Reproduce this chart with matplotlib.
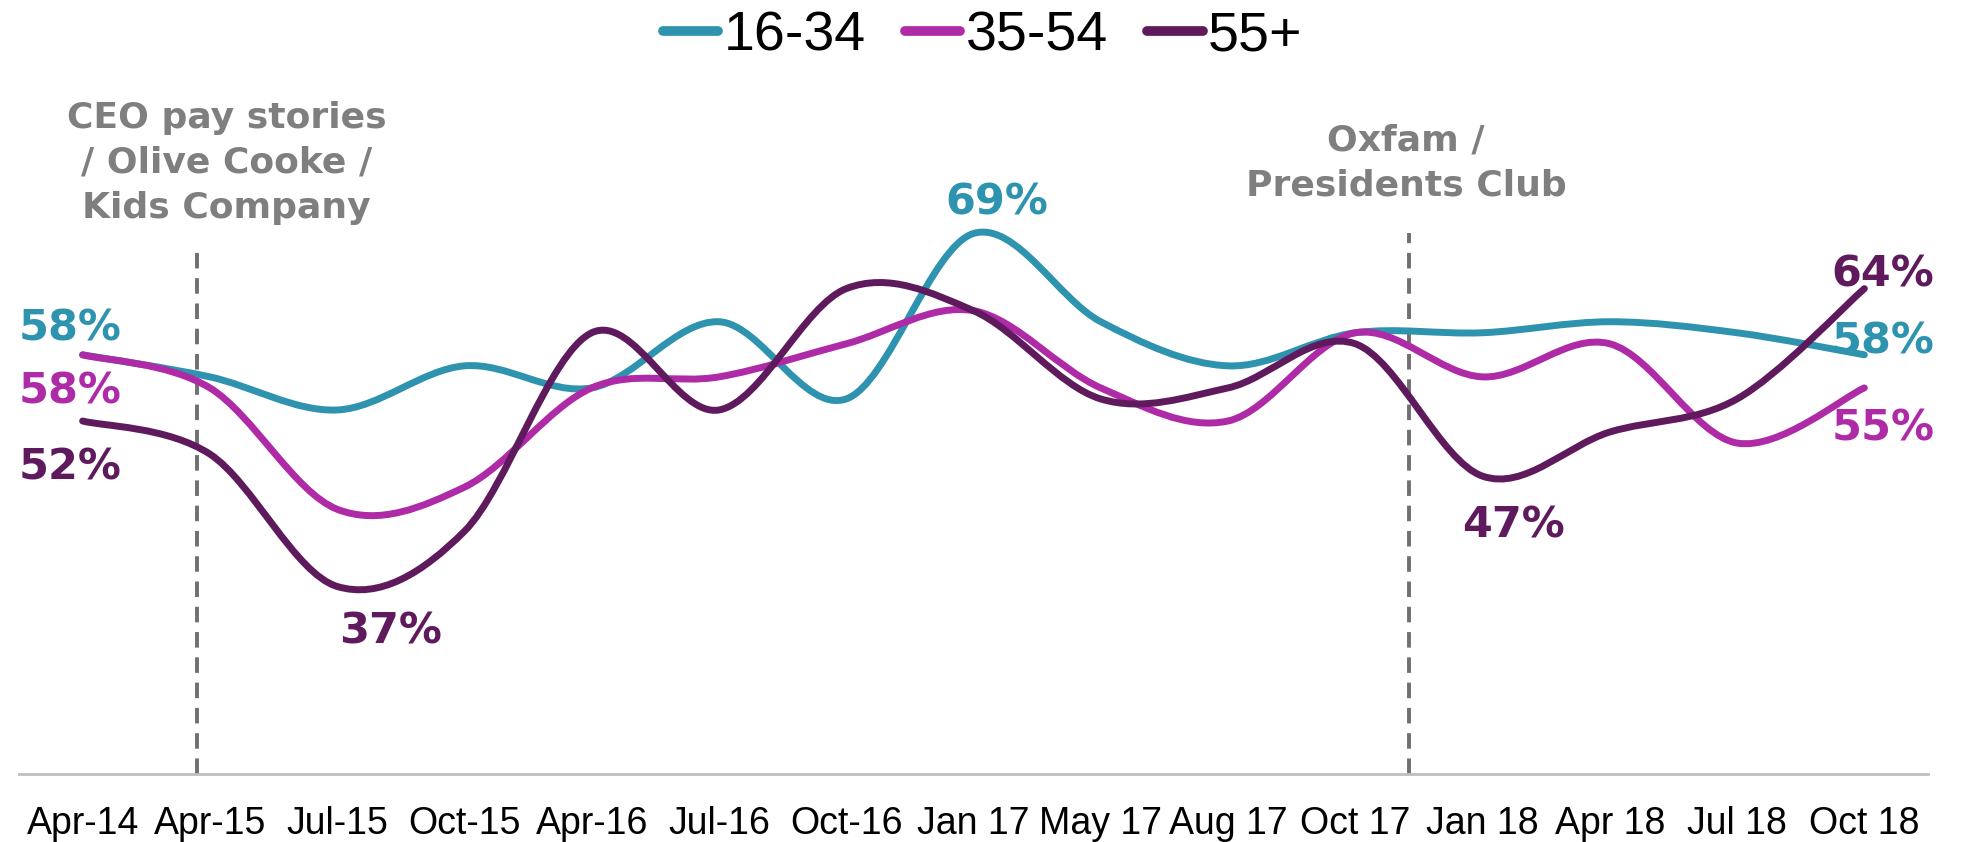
import numpy as np
import matplotlib
matplotlib.use("Agg")
import matplotlib.pyplot as plt
from matplotlib.path import Path
from matplotlib.patches import PathPatch

# #### Data (percent agreeing, by age group)
months = ["Apr-14", "Apr-15", "Jul-15", "Oct-15", "Apr-16", "Jul-16", "Oct-16", "Jan 17",
          "May 17", "Aug 17", "Oct 17", "Jan 18", "Apr 18", "Jul 18", "Oct 18"]
age_16_34 = [58, 56, 53, 57, 55, 61, 54, 69, 61, 57, 60, 60, 61, 60, 58]
age_35_54 = [58, 55, 44, 46, 55, 56, 59, 62, 55, 52, 60, 56, 59, 50, 55]
age_55_plus = [52, 49, 37, 42, 60, 53, 64, 62, 54, 55, 59, 47, 51, 54, 64]
series_names = ["16-34", "35-54", "55+"]

# events marked with dashed lines (position between categories, caption)
events = [(0.9, 67.5, 0.23, "CEO pay stories\n/ Olive Cooke /\nKids Company"),
          (10.42, 69.0, -0.02, "Oxfam /\nPresidents Club")]

c_young = "#2E93AE"
c_mid = "#AE2AA6"
c_old = "#5E1A5C"
grey = "#7F7F7F"


def smooth_path(xs, ys):
    # Excel style smoothed line: cubic bezier segments through every point
    pts = np.column_stack([xs, ys]).astype(float)
    padded = np.vstack([pts[0], pts, pts[-1]])
    verts = [pts[0]]
    codes = [Path.MOVETO]
    for i in range(len(pts) - 1):
        p0, p1, p2, p3 = padded[i], padded[i + 1], padded[i + 2], padded[i + 3]
        verts += [p1 + (p2 - p0) / 6, p2 - (p3 - p1) / 6, p2]
        codes += [Path.CURVE4] * 3
    return Path(verts, codes)


fig = plt.figure(figsize=(19.77, 8.42), dpi=100)
ax = fig.add_axes([0.0096, 0.0808, 0.9656, 0.786])

x = np.arange(len(months))
handles = []
for vals, col, name in zip([age_16_34, age_35_54, age_55_plus],
                           [c_young, c_mid, c_old], series_names):
    ax.add_patch(PathPatch(smooth_path(x, vals), facecolor="none", edgecolor=col,
                           lw=5, capstyle="round", joinstyle="round", zorder=3))
    h, = ax.plot([], [], color=col, lw=7, solid_capstyle="round", label=name)
    handles.append(h)

for ex, ytop, dx, caption in events:
    ax.plot([ex, ex], [20, ytop], color="#707070", lw=2.8, dashes=(4, 2.5), zorder=2)
    ax.text(ex + dx, 75.4, caption, ha="center", va="center", color=grey,
            fontsize=26, fontweight="bold", linespacing=1.4)

# value labels
lab = dict(fontsize=31, fontweight="bold")
ax.text(-0.5, 60.4, "58%", color=c_young, ha="left", va="center", **lab)
ax.text(-0.5, 54.7, "58%", color=c_mid, ha="left", va="center", **lab)
ax.text(-0.5, 47.8, "52%", color=c_old, ha="left", va="center", **lab)
ax.text(2.42, 32.9, "37%", color=c_old, ha="center", va="center", **lab)
ax.text(7.18, 71.8, "69%", color=c_young, ha="center", va="center", **lab)
ax.text(11.24, 42.5, "47%", color=c_old, ha="center", va="center", **lab)
ax.text(14.55, 65.3, "64%", color=c_old, ha="right", va="center", **lab)
ax.text(14.55, 59.2, "58%", color=c_young, ha="right", va="center", **lab)
ax.text(14.55, 51.3, "55%", color=c_mid, ha="right", va="center", **lab)

ax.set_xlim(-0.5, len(months) - 0.5)
ax.set_ylim(20, 80)
ax.set_xticks(x)
ax.set_xticklabels(months, fontsize=27, family="Liberation Sans")
ax.tick_params(axis="x", length=0, pad=23)
ax.set_yticks([])
for s in ["top", "left", "right"]:
    ax.spines[s].set_visible(False)
ax.spines["bottom"].set_color("#BFBFBF")
ax.spines["bottom"].set_linewidth(2)

fig.legend(handles=handles, loc="center", bbox_to_anchor=(0.497, 0.957), ncol=3,
           frameon=False, handlelength=1.0, handletextpad=0.1, columnspacing=0.7,
           prop={"family": "Liberation Sans", "size": 40})

fig.savefig("out.png", dpi=100, facecolor="white")
